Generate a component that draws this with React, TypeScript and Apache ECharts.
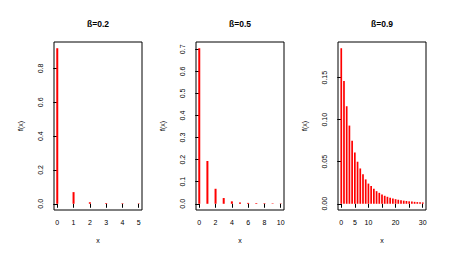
import React, { useEffect, useRef } from "react";
import * as echarts from "echarts";

const titles = ["ß=0.2", "ß=0.5", "ß=0.9"];

const values02 = [0.92, 0.069, 0.009, 0.004, 0.003, 0.002];
const values05 = [0.705, 0.194, 0.068, 0.026, 0.011, 0.006, 0.004, 0.003, 0.0025, 0.002, 0.0015];
const values09 = [
  0.185, 0.146, 0.116, 0.093, 0.075, 0.061, 0.05, 0.042, 0.035, 0.029, 0.024,
  0.021, 0.018, 0.015, 0.013, 0.011, 0.0095, 0.0083, 0.0072, 0.0063, 0.0055,
  0.0048, 0.0042, 0.0037, 0.0033, 0.0029, 0.0026, 0.0023, 0.002, 0.0018, 0.0016,
];

const xTicks = [
  [0, 1, 2, 3, 4, 5],
  [0, 2, 4, 6, 8, 10],
  [0, 5, 10, 15, 20, 25, 30],
];
const xLabels = [
  [0, 1, 2, 3, 4, 5],
  [0, 2, 4, 6, 8, 10],
  [0, 5, 10, 20, 30],
];
const yTicks = [
  [0, 0.2, 0.4, 0.6, 0.8],
  [0, 0.1, 0.2, 0.3, 0.4, 0.5, 0.6, 0.7],
  [0, 0.05, 0.1, 0.15],
];
const yDecimals = [1, 1, 2];

const allValues = [values02, values05, values09];

const FONT = "Liberation Sans, Arial, sans-serif";
const W = 451;
const H = 253;
const panelLefts = [54, 196, 338];
const panelWidth = 88;
const gridTop = 42;
const gridBottom = 43;
const barWidths = [2, 2, 1.7];

export default function App() {
  const ref = useRef<HTMLDivElement>(null);
  useEffect(() => {
    if (!ref.current) return;
    const chart = echarts.init(ref.current, null, { renderer: "svg" });
    const grids: any[] = [];
    const xAxes: any[] = [];
    const yAxes: any[] = [];
    const series: any[] = [];
    const title: any[] = [];
    allValues.forEach((vals, i) => {
      const n = vals.length - 1;
      const ymax = Math.max(...vals);
      grids.push({
        left: panelLefts[i],
        width: panelWidth,
        top: gridTop,
        bottom: gridBottom,
        show: true,
        borderColor: "#000",
        borderWidth: 1,
        backgroundColor: "transparent",
      });
      xAxes.push({
        type: "value",
        gridIndex: i,
        min: -0.04 * n,
        max: n * 1.04,
        splitLine: { show: false },
        axisLine: { show: false },
        axisTick: {
          show: true,
          length: 4,
          lineStyle: { color: "#000" },
          customValues: xTicks[i],
        },
        axisLabel: {
          customValues: xLabels[i],
          fontSize: 7,
          fontFamily: FONT,
          color: "#000",
          margin: 9,
        },
        name: "x",
        nameLocation: "middle",
        nameGap: 27,
        nameTextStyle: { fontSize: 7, fontFamily: FONT, color: "#000" },
      });
      yAxes.push({
        type: "value",
        gridIndex: i,
        min: -0.04 * ymax,
        max: ymax * 1.04,
        splitLine: { show: false },
        axisLine: { show: false },
        axisTick: {
          show: true,
          length: 4,
          lineStyle: { color: "#000" },
          customValues: yTicks[i],
        },
        axisLabel: {
          customValues: yTicks[i],
          rotate: 90,
          fontSize: 7,
          fontFamily: FONT,
          color: "#000",
          margin: 10,
          formatter: (v: number) => v.toFixed(yDecimals[i]),
        },
        name: "f(x)",
        nameLocation: "middle",
        nameGap: 30,
        nameTextStyle: { fontSize: 7, fontFamily: FONT, color: "#000" },
      });
      series.push({
        type: "bar",
        xAxisIndex: i,
        yAxisIndex: i,
        barWidth: barWidths[i],
        itemStyle: { color: "#ff0000" },
        data: vals.map((v, k) => [k, v]),
      });
      title.push({
        text: titles[i],
        left: panelLefts[i] + panelWidth / 2,
        top: 19,
        textAlign: "center",
        padding: 0,
        textStyle: {
          fontSize: 8.5,
          fontWeight: "bold",
          fontFamily: FONT,
          color: "#000",
        },
      });
    });
    chart.setOption({
      animation: false,
      backgroundColor: "#fff",
      title,
      grid: grids,
      xAxis: xAxes,
      yAxis: yAxes,
      series,
    });
    return () => chart.dispose();
  }, []);
  return (
    <div
      ref={ref}
      style={{ position: "fixed", left: 0, top: 0, width: W, height: H, background: "#fff" }}
    />
  );
}
